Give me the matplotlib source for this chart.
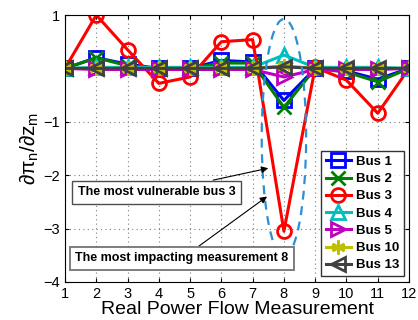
import matplotlib
matplotlib.use("Agg")
import matplotlib.pyplot as plt
from matplotlib.patches import Ellipse

plt.rcParams['font.family'] = ['Liberation Sans', 'DejaVu Sans']
plt.rcParams['mathtext.fontset'] = 'custom'
plt.rcParams['mathtext.rm'] = 'Liberation Sans'
plt.rcParams['mathtext.it'] = 'Liberation Sans'

measurements = list(range(1, 13))
bus1 = [0, 0.20, 0.08, 0, 0, 0.15, 0.12, -0.60, 0, -0.05, -0.20, 0]
bus2 = [0, 0.20, 0.05, 0, 0, 0.10, 0.10, -0.73, 0, -0.07, -0.25, 0]
bus3 = [0, 1.00, 0.35, -0.28, -0.16, 0.50, 0.54, -3.05, 0.02, -0.22, -0.84, 0]
bus4 = [0, 0.02, 0.02, 0.02, 0.02, 0.02, 0.02, 0.25, 0.02, 0.02, 0.02, 0]
bus5 = [0, -0.02, -0.02, -0.02, -0.02, -0.02, -0.02, -0.16, -0.02, -0.02, -0.02, 0]
bus10 = [0, 0, 0, 0, 0, 0, 0, 0.05, 0, 0, 0, 0]
bus13 = [0, 0, 0, 0, 0, 0, 0, 0.03, 0, 0, 0, 0]

series = [
    ("Bus 1", bus1, (0, 0, 1), 's'),
    ("Bus 2", bus2, (0, 0.5, 0), 'x'),
    ("Bus 3", bus3, (1, 0, 0), 'o'),
    ("Bus 4", bus4, (0, 0.75, 0.75), '^'),
    ("Bus 5", bus5, (0.75, 0, 0.75), '>'),
    ("Bus 10", bus10, (0.75, 0.75, 0), (6, 2, 0)),
    ("Bus 13", bus13, (0.25, 0.25, 0.25), '<'),
]

fig = plt.figure(figsize=(4.18, 3.2), dpi=100)
ax = fig.add_axes([0.1555, 0.119, 0.823, 0.834])

for name, vals, col, mk in series:
    ax.plot(measurements, vals, color=col, marker=mk, markersize=10,
            markerfacecolor='none', markeredgecolor=col, markeredgewidth=2,
            linewidth=2.2, label=name)

ell = Ellipse((8, -1.3), 1.42, 4.45, fill=False, edgecolor='#2b8fd3',
              linestyle=(0, (4, 3)), linewidth=1.6, zorder=5)
ax.add_patch(ell)

ax.set_xlim(1, 12)
ax.set_ylim(-4, 1)
ax.set_xticks(measurements)
ax.set_yticks([-4, -3, -2, -1, 0, 1])
ax.set_yticklabels(['\u22124', '\u22123', '\u22122', '\u22121', '', '1'])
ax.tick_params(direction='in', labelsize=10.5, length=3, top=True, right=True)
ax.grid(True, linestyle=(0, (1, 3)), color='0.5', linewidth=0.8)
ax.set_axisbelow(True)

ax.set_xlabel('Real Power Flow Measurement', fontsize=14, labelpad=0)
ax.set_ylabel(r'$\partial\pi_n/\partial z_m$', fontsize=15, labelpad=2)

ax.annotate('The most vulnerable bus 3', xy=(7.5, -1.87), xytext=(3.94, -2.32),
            fontsize=9, fontweight='bold', ha='center', va='center',
            bbox=dict(boxstyle='square,pad=0.45', fc='white', ec='0.3', lw=1),
            arrowprops=dict(arrowstyle='-|>', color='black', lw=0.8,
                            shrinkA=0, shrinkB=0, mutation_scale=10),
            zorder=6)
ax.annotate('The most impacting measurement 8', xy=(7.46, -2.40), xytext=(4.74, -3.56),
            fontsize=9, fontweight='bold', ha='center', va='center',
            bbox=dict(boxstyle='square,pad=0.45', fc='white', ec='0.45', lw=1.3),
            arrowprops=dict(arrowstyle='-|>', color='black', lw=0.8,
                            shrinkA=0, shrinkB=0, mutation_scale=10),
            zorder=6)

leg = ax.legend(loc='lower right', bbox_to_anchor=(0.985, 0.022),
                borderaxespad=0,
                prop={'weight': 'bold', 'size': 9.5}, frameon=True, fancybox=False,
                edgecolor='black', handlelength=1.9, labelspacing=0.38,
                borderpad=0.35, handletextpad=0.4, markerscale=1.0)
leg.get_frame().set_linewidth(1)
leg.set_zorder(10)

fig.savefig('out.png', dpi=100)
